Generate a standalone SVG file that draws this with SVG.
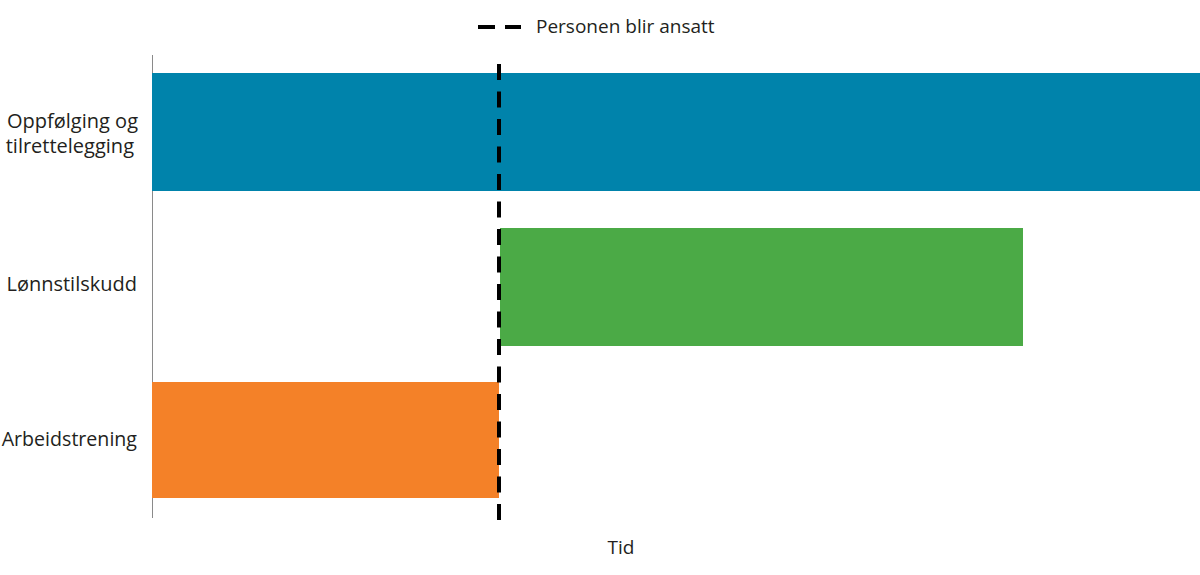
<svg xmlns="http://www.w3.org/2000/svg" width="1200" height="575" viewBox="0 0 1200 575">
<style>
text{font-family:"Open Sans","Liberation Sans",sans-serif;font-size:19px;fill:#231f20}
.lbl{text-anchor:end;font-size:20px}
.dash{stroke:#000;stroke-width:4;stroke-dasharray:16 11.5;fill:none}
</style>
<rect width="1200" height="575" fill="#fff"/>
<g id="axis"><line x1="152.5" y1="55" x2="152.5" y2="518" stroke="#8a8a8a" stroke-width="1"/></g>
<g id="bar-oppfolging"><rect x="152" y="73" width="1048" height="118" fill="#0083AB"/>
<text class="lbl" x="138" y="128">Oppfølging og</text><text class="lbl" x="134" y="153">tilrettelegging</text></g>
<g id="bar-lonnstilskudd"><rect x="500" y="228" width="523" height="118" fill="#4BAA46"/>
<text class="lbl" x="137" y="291">Lønnstilskudd</text></g>
<g id="bar-arbeidstrening"><rect x="152" y="382" width="347" height="116" fill="#F48128"/>
<text class="lbl" x="137" y="446" style="font-size:19.6px">Arbeidstrening</text></g>
<g id="connectors"><line class="dash" x1="499" y1="64" x2="499" y2="522"/></g>
<g id="legend"><line class="dash" x1="478" y1="27" x2="521" y2="27" style="stroke-dasharray:17 10"/>
<text x="536" y="33">Personen blir ansatt</text></g>
<g id="xlabel"><text x="621" y="554" text-anchor="middle">Tid</text></g>
</svg>
